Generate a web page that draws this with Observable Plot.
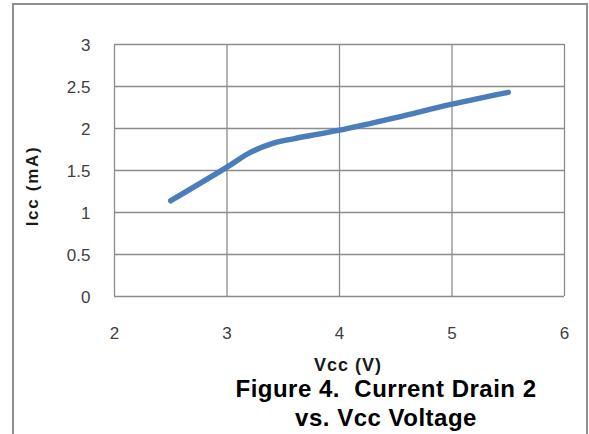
<!DOCTYPE html>
<html>
<head>
<meta charset="utf-8">
<script src="https://cdn.jsdelivr.net/npm/d3@7"></script>
<script src="https://cdn.jsdelivr.net/npm/@observablehq/plot@0.6"></script>
<style>
  html, body { margin: 0; padding: 0; background: #fff; }
  #wrap { position: relative; width: 589px; height: 434px; overflow: hidden; font-family: "Liberation Sans", Arial, sans-serif; }
  #border { position: absolute; left: 12px; top: 3px; width: 576px; height: 460px; border: 2px solid #8f8f8f; box-sizing: border-box; }
  #chart { position: absolute; left: 0; top: 0; }
  .xlab { position: absolute; left: 348px; top: 354px; transform: translateX(-50%); font-weight: bold; font-size: 18px; letter-spacing: 1px; color: #1a1a1a; white-space: nowrap; line-height: 22px; }
  .ylab { position: absolute; left: 33px; top: 186px; transform: translate(-50%, -50%) rotate(-90deg); font-weight: bold; font-size: 17px; letter-spacing: 1.7px; color: #1a1a1a; white-space: nowrap; line-height: 20px; }
  .title { position: absolute; left: 386px; transform: translateX(-50%); font-weight: bold; font-size: 24px; letter-spacing: 0.5px; color: #000; white-space: nowrap; line-height: 28px; }
</style>
</head>
<body>
<div id="wrap">
  <div id="border"></div>
  <div id="chart"></div>
  <div class="xlab">Vcc (V)</div>
  <div class="ylab">Icc (mA)</div>
  <div class="title" style="top:375px">Figure 4.&nbsp; Current Drain 2</div>
  <div class="title" style="top:404px">vs. Vcc Voltage</div>
</div>
<script>
const vcc = [2.5, 3.0, 3.2, 3.4, 3.6, 3.8, 4.0, 4.5, 5.0, 5.5];
const icc = [1.14, 1.54, 1.71, 1.82, 1.88, 1.93, 1.98, 2.13, 2.29, 2.43];
const xTicks = [2, 3, 4, 5, 6];
const yTicks = [0, 0.5, 1, 1.5, 2, 2.5, 3];

const data = vcc.map((v, i) => ({vcc: v, icc: icc[i]}));

const chart = Plot.plot({
  width: 589,
  height: 434,
  marginLeft: 114,
  marginRight: 25,
  marginTop: 44,
  marginBottom: 138,
  style: {fontFamily: "'Liberation Sans', Arial, sans-serif", fontSize: "17px", color: "#404040", background: "transparent"},
  x: {domain: [2, 6], ticks: xTicks, tickSize: 0, tickPadding: 30, label: null},
  y: {domain: [0, 3], ticks: yTicks, tickSize: 0, tickPadding: 24, label: null},
  marks: [
    Plot.gridX(xTicks, {stroke: "#8c8c8c", strokeOpacity: 1, strokeWidth: 1.3}),
    Plot.gridY(yTicks, {stroke: "#8c8c8c", strokeOpacity: 1, strokeWidth: 1.3}),
    Plot.axisX(xTicks, {tickSize: 0, tickPadding: 30, label: null, fill: "#404040", fontSize: 17}),
    Plot.axisY(yTicks, {tickSize: 0, tickPadding: 24, dy: 1.5, label: null, fill: "#404040", fontSize: 17, letterSpacing: 1.2, tickFormat: d => String(d)}),
    Plot.line(data, {x: "vcc", y: "icc", stroke: "#4a7ebb", strokeWidth: 5.5, curve: "catmull-rom", strokeLinecap: "round"})
  ]
});
document.getElementById("chart").appendChild(chart);
</script>
</body>
</html>
